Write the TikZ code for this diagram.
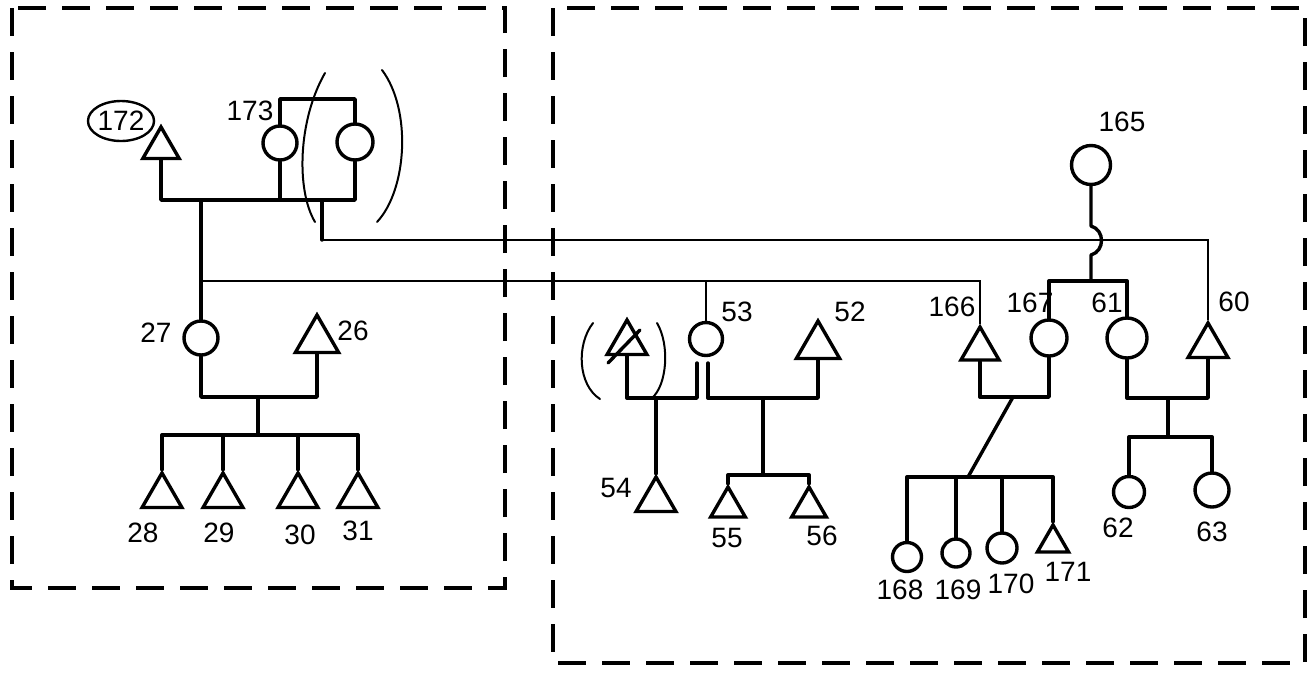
\documentclass[tikz,border=0pt]{standalone}
\usepackage{fontspec}
\setmainfont{Liberation Sans}
\usetikzlibrary{shapes.geometric}

\begin{document}
\begin{tikzpicture}[x=1pt, y=-1pt,
      ln/.style = {line width=3.4pt, line cap=round, line join=round},
      fine/.style = {line width=1.7pt},
      paren/.style = {line width=2pt, line cap=round},
      fem/.style = {draw, circle, line width=3.4pt, minimum size=34pt, inner sep=0pt},
      mal/.style = {draw, regular polygon, regular polygon sides=3, line width=3.4pt, minimum size=46pt, inner sep=0pt},
      lbl/.style = {font=\fontsize{28}{28}\selectfont, inner sep=0pt},
      box/.style = {line width=3.2pt, dash pattern=on 28pt off 16pt} ]
    \useasboundingbox (0,0) rectangle (1313,678);
    \draw[box] (12,8) rectangle (505,588);
    \draw[box] (553,8) rectangle (1305,663);

    \node[mal, minimum size=42pt] (m172) at (161,148) {};
    \node[fem] (f173) at (280,143) {};
    \node[fem, minimum size=36pt] (fsib) at (355,142) {};
    \node[fem] (f27) at (201,338) {};
    \node[mal, minimum size=50pt] (m26) at (317,340) {};
    \node[mal] (m28) at (162,496) {};
    \node[mal] (m29) at (223,496) {};
    \node[mal] (m30) at (298,496) {};
    \node[mal] (m31) at (358,496) {};

    \node[mal] (m54x) at (627,343) {};
    \node[fem, minimum size=33pt] (f53) at (706,339) {};
    \node[mal, minimum size=50pt] (m52) at (818,346) {};
    \node[mal] (m54) at (656,500) {};
    \node[mal, minimum size=40pt] (m55) at (728,507) {};
    \node[mal, minimum size=40pt] (m56) at (809,507) {};

    \node[fem, minimum size=39pt] (f165) at (1091,165) {};
    \node[mal, minimum size=44pt] (m166) at (980,349) {};
    \node[fem, minimum size=36pt] (f167) at (1049,338) {};
    \node[fem, minimum size=40pt] (f61) at (1127,338) {};
    \node[mal] (m60) at (1208,346) {};
    \node[fem, minimum size=29pt] (f168) at (907,557) {};
    \node[fem, minimum size=28pt] (f169) at (956,553) {};
    \node[fem, minimum size=30pt] (f170) at (1002,548) {};
    \node[mal, minimum size=36pt] (m171) at (1053,543) {};
    \node[fem, minimum size=31pt] (f62) at (1129,492) {};
    \node[fem, minimum size=34pt] (f63) at (1212,490) {};

    \node[lbl, draw, ellipse, line width=2.4pt, minimum width=62pt, minimum height=40pt] (t172) at (121,121) {172};
    \node[lbl] (t173) at (250,111) {173};
    \node[lbl] (t27) at (156,333) {27};
    \node[lbl] (t26) at (353,331) {26};
    \node[lbl] (t28) at (143,533) {28};
    \node[lbl] (t29) at (219,533) {29};
    \node[lbl] (t30) at (300,535) {30};
    \node[lbl] (t31) at (358,531) {31};
    \node[lbl] (t53) at (737,312) {53};
    \node[lbl] (t52) at (850,312) {52};
    \node[lbl] (t54) at (616,488) {54};
    \node[lbl] (t55) at (727,538) {55};
    \node[lbl] (t56) at (822,536) {56};
    \node[lbl] (t165) at (1122,122) {165};
    \node[lbl] (t166) at (952,307) {166};
    \node[lbl] (t167) at (1030,303) {167};
    \node[lbl] (t61) at (1107,303) {61};
    \node[lbl] (t60) at (1234,302) {60};
    \node[lbl] (t168) at (900,590) {168};
    \node[lbl] (t169) at (958,590) {169};
    \node[lbl] (t170) at (1011,584) {170};
    \node[lbl] (t171) at (1068,572) {171};
    \node[lbl] (t62) at (1118,528) {62};
    \node[lbl] (t63) at (1212,532) {63};

    \coordinate (u172) at (283,200);
    \coordinate (d172) at (201,200);
    \coordinate (j173) at (322,200);
    \coordinate (k173) at (322,240);
    \coordinate (j27) at (201,281);
    \coordinate (u27) at (258,397);
    \coordinate (s27) at (258,435);
    \coordinate (u54) at (697,398);
    \coordinate (v53) at (708,398);
    \coordinate (c54) at (656,398);
    \coordinate (c53) at (763,398);
    \coordinate (s53) at (763,475);
    \coordinate (s165) at (1091,281);
    \coordinate (u166) at (1013,397);
    \coordinate (s166) at (968,477);
    \coordinate (u61) at (1168,398);
    \coordinate (s61) at (1168,437);

    \draw[ln] (m172.side 2) |- (u172) -| (fsib.south);
    \draw[ln] (f173.south) -- (f173.south |- u172);
    \draw[ln] (f173.north) -- (280,99) -| (fsib.north);
    \draw[ln] (d172) -- (f27.north);
    \draw[ln] (j173) -- (k173);
    \draw[fine] (k173) -| (m60.corner 1);
    \draw[fine] (j27) -| (m166.corner 1);
    \draw[fine] (f53.north |- j27) -- (f53.north);
    \draw[paren] (325,73) .. controls (298,120) and (296,190) .. (315,222);
    \draw[paren] (382,70) .. controls (412,110) and (407,190) .. (377,222);

    \draw[ln] (f27.south) |- (u27) -| (m26.side 2);
    \draw[ln] (u27) -- (s27);
    \draw[ln] (m28.corner 1) |- (s27) -| (m31.corner 1);
    \draw[ln] (m29.corner 1) -- (m29.corner 1 |- s27);  \draw[ln] (m30.corner 1) -- (m30.corner 1 |- s27);

    \draw[ln] (m54x.side 2) |- (u54) -- (u54 |- 0,363);
    \draw[ln] (m52.side 2) |- (v53) -- (v53 |- 0,363);
    \draw[ln] (c54) -- (m54.corner 1);
    \draw[ln] (c53) -- (s53);
    \draw[ln] (m55.corner 1) |- (s53) -| (m56.corner 1);
    \draw[ln] (608,363) -- (640,330);
    \draw[paren] (593,323) .. controls (576,345) and (578,385) .. (600,399);
    \draw[paren] (657,323) .. controls (670,345) and (667,385) .. (652,398);

    \draw[ln] (f165.south) -- (1091,226) .. controls (1105,230) and (1105,251) .. (1091,255) -- (s165);
    \draw[ln] (f167.north) |- (s165) -| (f61.north);
    \draw[ln] (m166.side 2) |- (u166) -| (f167.south);
    \draw[ln] (u166) -- (s166);
    \draw[ln] (f168.north) |- (s166) -| (m171.corner 1);
    \draw[ln] (f169.north) -- (f169.north |- s166);  \draw[ln] (f170.north) -- (f170.north |- s166);
    \draw[ln] (f61.south) |- (u61) -| (m60.side 2);
    \draw[ln] (u61) -- (s61);
    \draw[ln] (f62.north) |- (s61) -| (f63.north);
  \end{tikzpicture}
\end{document}
